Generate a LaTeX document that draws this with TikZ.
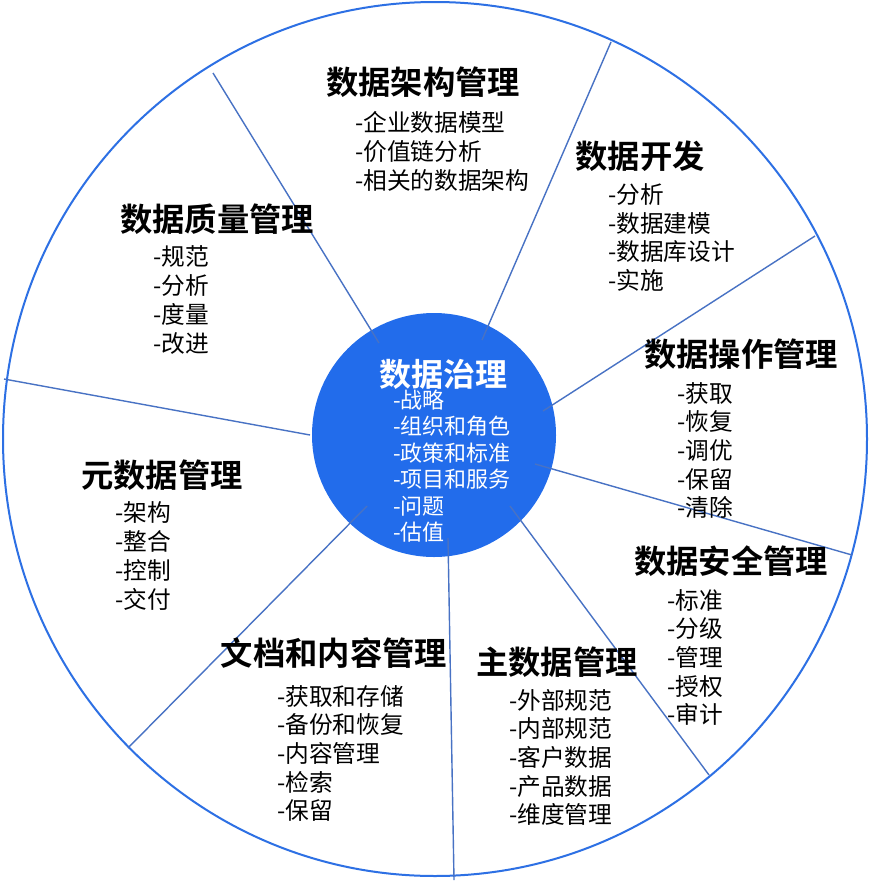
\documentclass[tikz,border=0pt]{standalone}
\usepackage{fontspec}
\newfontfamily\cjk{Noto Sans CJK SC}[BoldFont={Noto Sans CJK SC Bold}]
\definecolor{ringblue}{RGB}{45,112,228}
\definecolor{hubblue}{RGB}{34,108,235}
\definecolor{spokeblue}{RGB}{72,114,196}
\begin{document}
\begin{tikzpicture}[x=1pt,y=-1pt,
  head/.style={inner sep=0pt,font=\cjk\bfseries\fontsize{32.3}{34}\selectfont,text=black},
  items/.style={inner sep=0pt,anchor=west,align=left,font=\cjk\fontsize{23.7}{28.7}\selectfont,text=black},
  hubhead/.style={inner sep=0pt,font=\cjk\bfseries\fontsize{32}{34}\selectfont,text=white},
  hubitems/.style={inner sep=0pt,anchor=west,align=left,font=\cjk\fontsize{22}{26.4}\selectfont,text=white},
  spoke/.style={draw=spokeblue,line width=1.4pt}]
\useasboundingbox (0,0) rectangle (870,881);
\fill[white] (0,0) rectangle (870,881);
% outer ring
\draw[ringblue,line width=2pt] (435,439) ellipse [x radius=432, y radius=437];
% hub
\node[circle,fill=hubblue,minimum size=244pt,inner sep=0pt] (hub) at (434,435) {};
% spoke end points
\coordinate (a1) at (213,73);  \coordinate (a2) at (379,343);
\coordinate (b1) at (611,42);  \coordinate (b2) at (482,340);
\coordinate (c1) at (815,236); \coordinate (c2) at (543,411);
\coordinate (d1) at (852,555); \coordinate (d2) at (535,464);
\coordinate (e1) at (709,775); \coordinate (e2) at (510,506);
\coordinate (f1) at (454,880); \coordinate (f2) at (448,538);
\coordinate (g1) at (128,748); \coordinate (g2) at (367,506);
\coordinate (h1) at (4,379);   \coordinate (h2) at (310,435);
\draw[spoke] (a1) -- (a2);
\draw[spoke] (b1) -- (b2);
\draw[spoke] (c1) -- (c2);
\draw[spoke] (d1) -- (d2);
\draw[spoke] (e1) -- (e2);
\draw[spoke] (f1) -- (f2);
\draw[spoke] (g1) -- (g2);
\draw[spoke] (h1) -- (h2);
% hub text
\node[hubhead] (hubtitle) at (443,374) {数据治理};
\node[hubitems] (hublist) at (393,466) {-战略\\-组织和角色\\-政策和标准\\-项目和服务\\-问题\\-估值};
% sectors
\node[head] (archt) at (423,82) {数据架构管理};
\node[items] (archl) at (355,151.5) {-企业数据模型\\-价值链分析\\-相关的数据架构};
\node[head] (devt) at (640,156) {数据开发};
\node[items] (devl) at (608,237.5) {-分析\\-数据建模\\-数据库设计\\-实施};
\node[head] (opst) at (741,354) {数据操作管理};
\node[items] (opsl) at (677,450.5) {-获取\\-恢复\\-调优\\-保留\\-清除};
\node[head] (sect) at (731,561) {数据安全管理};
\node[items] (secl) at (667,657.5) {-标准\\-分级\\-管理\\-授权\\-审计};
\node[head] (mdmt) at (557,662) {主数据管理};
\node[items] (mdml) at (509,757.5) {-外部规范\\-内部规范\\-客户数据\\-产品数据\\-维度管理};
\node[head] (doct) at (334,653) {文档和内容管理};
\node[items] (docl) at (277,753.5) {-获取和存储\\-备份和恢复\\-内容管理\\-检索\\-保留};
\node[head] (metat) at (162,475) {元数据管理};
\node[items] (metal) at (115,556) {-架构\\-整合\\-控制\\-交付};
\node[head] (qualt) at (217,219) {数据质量管理};
\node[items] (quall) at (153,300) {-规范\\-分析\\-度量\\-改进};
\end{tikzpicture}
\end{document}
